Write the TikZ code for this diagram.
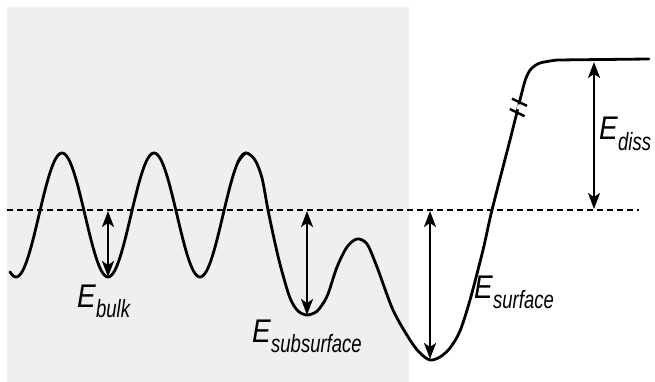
\documentclass[tikz,border=0pt]{standalone}
\usepackage{fontspec}
\setmainfont{Liberation Sans}
\usetikzlibrary{arrows.meta}
\definecolor{bgpanel}{RGB}{239,239,239}
\newcommand\elabel[1]{\scalebox{1}[1.17]{\fontsize{28}{34}\selectfont\itshape E}\kern0.5pt\raisebox{-10pt}{\scalebox{1}[1.35]{\fontsize{18.5}{22}\selectfont\itshape #1}}}
\tikzset{
  curve/.style={line width=2.8pt, line join=round, line cap=round},
  refline/.style={line width=2.2pt, dash pattern=on 6pt off 4pt},
  earrow/.style={line width=2.2pt, {Stealth[length=16pt,width=12pt,inset=4pt]}-{Stealth[length=16pt,width=12pt,inset=4pt]}},
  brk/.style={line width=2.4pt},
  lbl/.style={anchor=base west, inner sep=0pt, outer sep=0pt}
}
\begin{document}
\begin{tikzpicture}[x=1pt,y=-1pt]
\useasboundingbox (0,0) rectangle (655,382);
\fill[bgpanel] (7,7) rectangle (409,382);
% reference level
\coordinate (dl) at (7,210);
\coordinate (dr) at (639,210);
\draw[refline] (dl) -- (dr);
% energy curve
\draw[curve] plot[domain=10:246, samples=150] (\x, {215-62*cos(3.91304*(\x-62))});
\draw[curve] plot[smooth, tension=0.5] coordinates {
 (238,162) (246,153) (255,160) (262,178) (268,210) (275,243) (281,268) (290,298) (298,311) (307,315)
 (316,312) (322,305) (328,294) (337,267) (347,247) (357,239) (367,244) (377,267)
 (393,310) (410,340) (420,353) (430,360) (440,357) (450,348) (460,331) (470,300)
 (483,250) (492,210) (510,140) (522,92) (526,78) (531,69) (540,63) (557,60)}
 -- (649,59);
% break marks
\draw[white, line width=4pt] (519.7,104.6) -- (518.6,109.4);
\coordinate (m1a) at (512,98.7);  \coordinate (m1b) at (527,105.9);
\coordinate (m2a) at (509.8,109); \coordinate (m2b) at (524.6,116.2);
\draw[brk] (m1a) -- (m1b);
\draw[brk] (m2a) -- (m2b);
% arrow endpoints
\coordinate (bt) at (108,211); \coordinate (bb) at (108,277);
\coordinate (st) at (307,211); \coordinate (sb) at (307,315);
\coordinate (ft) at (430,211); \coordinate (fb) at (430,359);
\coordinate (dt) at (594,62);  \coordinate (db) at (594,209);
\draw[earrow] (bt) -- (bb);
\draw[earrow] (st) -- (sb);
\draw[earrow] (ft) -- (fb);
\draw[earrow] (dt) -- (db);
% labels
\node[lbl] (Lbulk) at (77,307) {\elabel{bulk}};
\node[lbl] (Lsub) at (252,342) {\elabel{subsurface}};
\node[lbl] (Lsurf) at (474,298) {\elabel{surface}};
\node[lbl] (Ldiss) at (599,140) {\elabel{diss}};
\end{tikzpicture}
\end{document}
